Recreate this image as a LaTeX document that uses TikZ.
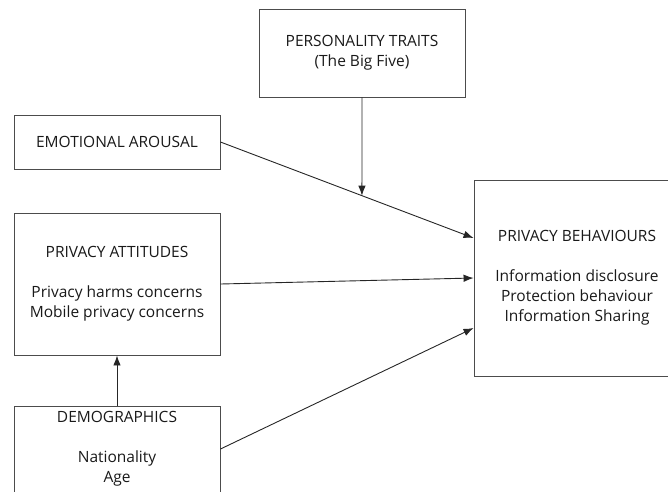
\documentclass[tikz,border=0pt]{standalone}
\usepackage{fontspec}
\setmainfont{Open Sans}
\usetikzlibrary{arrows.meta,positioning,calc}

\tikzset{
  factor/.style={draw=black!70,line width=0.9pt,minimum width=206pt,align=center,
    inner sep=0pt,text=black!90,font=\fontsize{15.5}{20}\selectfont},
  link/.style={draw=black!85,line width=0.9pt,-{Latex[length=10pt,width=7.5pt]}}
}

\begin{document}
\begin{tikzpicture}[x=1pt,y=-1pt]
      \useasboundingbox (0,0) rectangle (668,491);
      \node[factor,minimum height=88pt] (traits) at (362,53) {PERSONALITY TRAITS\\(The Big Five)};
      \node[factor,minimum height=54pt] (arousal) at (117,142) {EMOTIONAL AROUSAL};
      \node[factor,minimum height=142pt] (attitudes) at (117,284)
        {PRIVACY ATTITUDES\\[20pt]Privacy harms concerns\\Mobile privacy concerns};
      \node[factor,minimum height=86pt] (demo) at (117,449) {DEMOGRAPHICS\\[20pt]Nationality\\Age};
      \node[factor,minimum height=196pt] (behaviour) at (577,278)
        {PRIVACY BEHAVIOURS\\[20pt]Information disclosure\\Protection behaviour\\Information Sharing};
      % moderator meets the arousal path
      \coordinate (meet) at ($(arousal.east)!0.559!([yshift=40pt]behaviour.west)$);
      \draw[link] (arousal.east) -- ([yshift=40pt]behaviour.west);
      \draw[link] (traits.south) -- (meet);
      \draw[link] (attitudes.east) -- (behaviour.west);
      \draw[link] (demo.east) -- ([yshift=-50pt]behaviour.west);
      \draw[link] (demo.north) -- (attitudes.south);
    \end{tikzpicture}
\end{document}
